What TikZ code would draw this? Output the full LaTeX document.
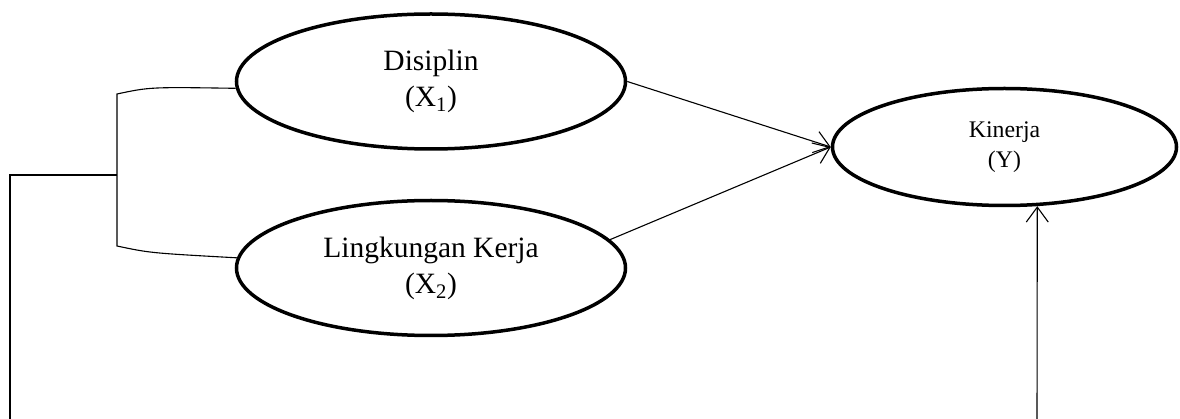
\documentclass[tikz,border=0pt]{standalone}
\usepackage{fontspec}
\setmainfont{Liberation Serif}
\usetikzlibrary{shapes.geometric,arrows.meta}
\begin{document}
\begin{tikzpicture}[x=1pt,y=-1pt,
  var/.style={ellipse,draw,line width=3.5pt,inner sep=0pt,align=center},
  big/.style={var,minimum width=389pt,minimum height=135pt,font=\fontsize{29.5}{36}\selectfont},
  small/.style={var,minimum width=344pt,minimum height=117pt,font=\fontsize{23.8}{30}\selectfont},
  conn/.style={line width=1.1pt},
  arr/.style={conn,-{Straight Barb[length=15pt,width=22pt,line width=1.1pt]}}]
\useasboundingbox (0,0) rectangle (1180,419);
\node[big] (D) at (431,81.5) {Disiplin\\(X\textsubscript{1})};
\node[big] (L) at (431,268) {Lingkungan Kerja\\(X\textsubscript{2})};
\node[small] (K) at (1004.5,147) {Kinerja\\(Y)};
\coordinate (bt) at (117,94);
\coordinate (bb) at (117,246);
\coordinate (bm) at (117,175);
\coordinate (lc) at (10,175);
\coordinate (lb) at (10,419);
\coordinate (rb) at (1037,419);
\draw[conn] (D.182) .. controls (150,87) .. (bt) -- (bb) .. controls (150,253) .. (L.177);
\draw[conn] (bm) -- (lc) -- (lb);
\draw[arr] (D.east) -- (K.west);
\draw[arr] (L.9) -- (K.west);
\draw[arr] (rb) -- (K.-61);
\end{tikzpicture}
\end{document}
